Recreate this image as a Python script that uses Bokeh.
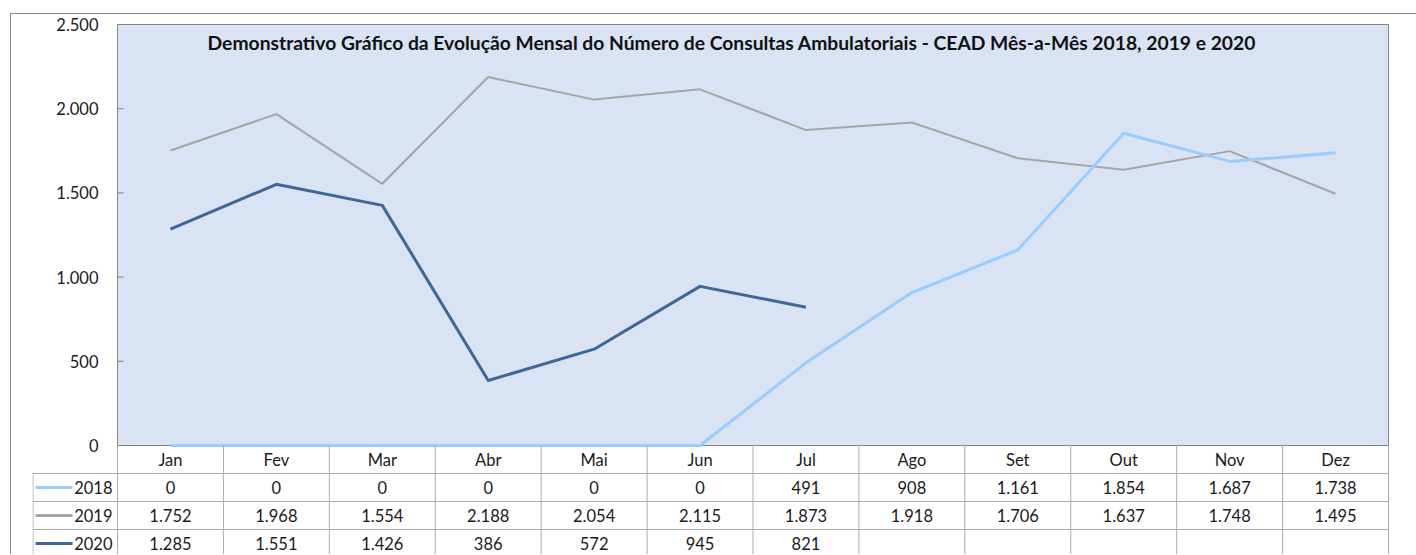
from bokeh.plotting import figure
from bokeh.models import Range1d, Label
from bokeh.layouts import column
from bokeh.embed import file_html
from bokeh.resources import INLINE
from bokeh.core.properties import value

# ---------------- data ----------------
months = ["Jan", "Fev", "Mar", "Abr", "Mai", "Jun", "Jul", "Ago", "Set", "Out", "Nov", "Dez"]
years = ["2018", "2019", "2020"]
v2018 = [0, 0, 0, 0, 0, 0, 491, 908, 1161, 1854, 1687, 1738]
v2019 = [1752, 1968, 1554, 2188, 2054, 2115, 1873, 1918, 1706, 1637, 1748, 1495]
v2020 = [1285, 1551, 1426, 386, 572, 945, 821, None, None, None, None, None]
y_ticks = [0, 500, 1000, 1500, 2000, 2500]
y_tick_labels = ["0", "500", "1.000", "1.500", "2.000", "2.500"]
title_text = ("Demonstrativo Gráfico da Evolução Mensal do Número de Consultas "
              "Ambulatoriais - CEAD Mês-a-Mês 2018, 2019 e 2020")

series = [v2018, v2019, v2020]
colors = ["#99CCFF", "#A5A5A5", "#3F6699"]
widths = [3, 2, 3]

FONT = "Lato"
TXT = "#1a1a1a"
GRAY = "#868686"
TBL = "#ABABAB"
PLOT_BG = "#DAE3F3"
n = len(months)

# ---------------- layout constants (pixels) ----------------
FIG_X, FIG_Y = 11, 14          # page position of the figure
FIG_W, FIG_H = 1405, 540
FRAME_L = 32                   # left edge of the table / frame
AREA_L, AREA_R = 117, 1388     # plot area
AREA_T, AREA_B = 24, 445
ROW = 28
PX = (AREA_R - AREA_L) / n
VPX = (AREA_B - AREA_T) / (y_ticks[-1] - y_ticks[0])
FRAME_R = FIG_X + FIG_W
FRAME_B = FIG_Y + FIG_H

x_range = Range1d((FRAME_L - AREA_L) / PX, (FRAME_R - AREA_L) / PX)
y_range = Range1d(-(FRAME_B - AREA_B) / VPX, y_ticks[-1] + (AREA_T - FIG_Y) / VPX)

p = figure(width=FIG_W, height=FIG_H, output_backend="svg", toolbar_location=None,
           x_range=x_range, y_range=y_range,
           min_border_left=FRAME_L - FIG_X, min_border_right=0,
           min_border_top=0, min_border_bottom=0)
p.extra_y_ranges = {"tbl": Range1d((FRAME_B - AREA_B) / ROW, (FIG_Y - AREA_B) / ROW)}
p.axis.visible = False
p.grid.visible = False
p.outline_line_color = None
p.background_fill_color = "white"
p.border_fill_color = "white"

# plot area
p.quad(left=[0], right=[n], bottom=[y_ticks[0]], top=[y_ticks[-1]],
       fill_color=PLOT_BG, line_color=GRAY, line_width=1)
# y ticks + labels
p.segment(x0=[0] * len(y_ticks), y0=y_ticks, x1=[6 / PX] * len(y_ticks), y1=y_ticks,
          line_color=GRAY, line_width=1)
p.text(x=[-19 / PX] * len(y_ticks), y=y_ticks, text=y_tick_labels, text_align="right",
       text_baseline="middle", text_font=value(FONT), text_font_size="16.5px",
       text_color=TXT)

xs = [i + 0.5 for i in range(n)]
for k in [1, 0, 2]:
    ys = [float("nan") if v is None else v for v in series[k]]
    p.line(xs, ys, line_color=colors[k], line_width=widths[k], line_join="round")

p.add_layout(Label(x=5.8, y=2393, text=title_text, text_align="center",
                   text_baseline="middle", text_font=FONT, text_font_style="bold",
                   text_font_size="19.3px", text_color="#111111"))

# ---------------- data table ----------------
LEG_L = (FRAME_L - AREA_L) / PX
vx = list(range(n + 1))
p.segment(x0=vx, y0=[0] * len(vx), x1=vx, y1=[5] * len(vx), line_color=TBL,
          line_width=1, y_range_name="tbl")
p.segment(x0=[LEG_L + 0.5 / PX], y0=[1], x1=[LEG_L + 0.5 / PX], y1=[5], line_color=TBL,
          line_width=1, y_range_name="tbl")
hy = [1, 2, 3, 4]
p.segment(x0=[LEG_L] * len(hy), y0=hy, x1=[n] * len(hy), y1=hy, line_color=TBL,
          line_width=1, y_range_name="tbl")

p.text(x=xs, y=[0.5] * n, text=months, text_align="center", text_baseline="middle",
       text_font=value(FONT), text_font_size="16.5px", text_color=TXT, y_range_name="tbl")


def fmt(v):
    return "" if v is None else f"{v:,}".replace(",", ".")


for r, (yr, vals) in enumerate(zip(years, series)):
    yc = r + 1.5
    p.text(x=xs, y=[yc] * n, text=[fmt(v) for v in vals], text_align="center",
           text_baseline="middle", text_font=value(FONT), text_font_size="16.5px",
           text_color=TXT, y_range_name="tbl")
    p.text(x=[-5 / PX], y=[yc], text=[yr], text_align="right", text_baseline="middle",
           text_font=value(FONT), text_font_size="16.5px", text_color=TXT,
           y_range_name="tbl")
    p.segment(x0=[-82 / PX], y0=[yc], x1=[-45 / PX], y1=[yc], line_color=colors[r],
              line_width=3, y_range_name="tbl")

layout = column(p, spacing=0, margin=(FIG_Y - 1, 0, 0, FIG_X - 1),
                styles={"border-left": "1px solid #8A8A8A", "border-top": "1px solid #8A8A8A"})

open("out.html", "w").write(file_html(layout, INLINE))
